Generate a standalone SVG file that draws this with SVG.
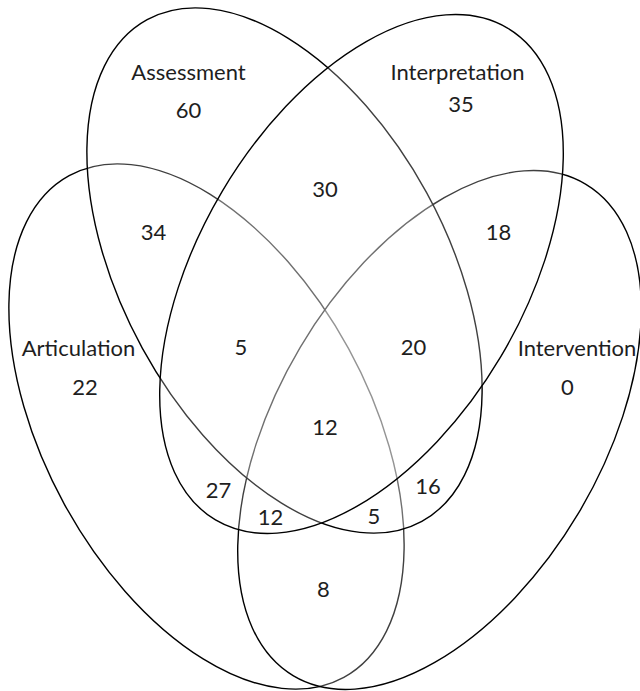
<svg xmlns="http://www.w3.org/2000/svg" width="640" height="691" viewBox="0 0 640 691">
<style>
.set{fill:#ffffff;fill-opacity:0.25;stroke:#000000;stroke-width:1.4}
text{font-family:Lato,"Open Sans","Liberation Sans",sans-serif;font-size:22px;fill:#1e1e1e;text-anchor:middle}
</style>
<rect width="640" height="691" fill="#ffffff"/>
<g id="articulation">
<ellipse class="set" cx="206.5" cy="426.5" rx="286" ry="162" transform="rotate(61.3 206.5 426.5)"/>
</g>
<g id="intervention">
<ellipse class="set" cx="439.5" cy="430" rx="286" ry="162" transform="rotate(-59.3 439.5 430)"/>
</g>
<g id="assessment">
<ellipse class="set" cx="284.5" cy="270.5" rx="286" ry="162" transform="rotate(61.3 284.5 270.5)"/>
</g>
<g id="interpretation">
<ellipse class="set" cx="361.5" cy="274" rx="286" ry="162" transform="rotate(-59.3 361.5 274)"/>
</g>
<g id="labels">
<text x="188.5" y="80">Assessment</text>
<text x="188.5" y="118">60</text>
<text x="457.5" y="80">Interpretation</text>
<text x="461" y="112">35</text>
<text x="78.5" y="356">Articulation</text>
<text x="85" y="395">22</text>
<text x="577" y="356">Intervention</text>
<text x="567.5" y="395">0</text>
</g>
<g id="regions">
<text x="325" y="197">30</text>
<text x="153.5" y="240">34</text>
<text x="498.5" y="240">18</text>
<text x="241" y="355">5</text>
<text x="413.5" y="355">20</text>
<text x="325" y="435">12</text>
<text x="218.5" y="498">27</text>
<text x="270.5" y="525">12</text>
<text x="374" y="524">5</text>
<text x="428" y="494">16</text>
<text x="323.5" y="597">8</text>
</g>
</svg>
